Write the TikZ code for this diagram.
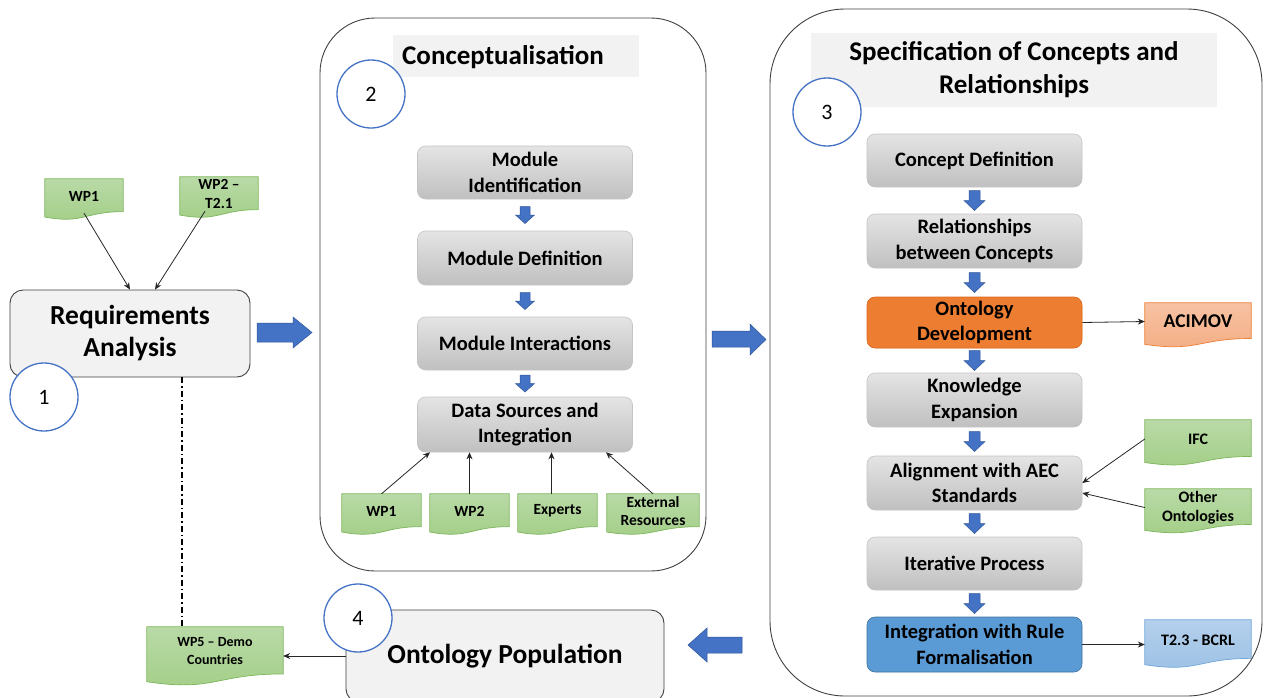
\documentclass[tikz,border=0pt]{standalone}
\usepackage{fontspec}
\setmainfont{Carlito}
\usetikzlibrary{calc,arrows.meta,backgrounds}

\definecolor{boxtop}{HTML}{E4E4E4}
\definecolor{boxbot}{HTML}{C0C0C0}
\definecolor{boxedge}{HTML}{C4C4C4}
\definecolor{paleface}{HTML}{F2F2F2}
\definecolor{frame}{HTML}{404040}
\definecolor{ringblue}{HTML}{4472C4}
\definecolor{arrowblue}{HTML}{4472C4}
\definecolor{arrowedge}{HTML}{2F5597}
\definecolor{greentop}{HTML}{B9DAA7}
\definecolor{greenbot}{HTML}{A2CE86}
\definecolor{greenedge}{HTML}{7CB65A}
\definecolor{orangefill}{HTML}{ED7D31}
\definecolor{orangeedge}{HTML}{D96A1E}
\definecolor{peachtop}{HTML}{F7C2A3}
\definecolor{peachbot}{HTML}{F3AD83}
\definecolor{peachedge}{HTML}{ED7D31}
\definecolor{ruleblue}{HTML}{5B9BD5}
\definecolor{ruleedge}{HTML}{41719C}
\definecolor{skytop}{HTML}{B4D0EC}
\definecolor{skybot}{HTML}{9CC1E5}
\definecolor{skyedge}{HTML}{6FA6DA}

\tikzset{
  stage/.style={rectangle, rounded corners=8pt, draw=boxedge, line width=0.6pt,
    top color=boxtop, bottom color=boxbot, minimum width=215pt, minimum height=54pt,
    align=center, inner sep=2pt, font=\bfseries\fontsize{20.5}{25.5}\selectfont},
  bigbox/.style={rectangle, rounded corners=13pt, draw=frame, line width=0.9pt,
    fill=paleface, align=center, font=\bfseries\fontsize{27.5}{32}\selectfont},
  container/.style={rectangle, draw=frame, line width=0.9pt},
  titlebar/.style={rectangle, fill=paleface, inner sep=0pt},
  ring/.style={circle, draw=ringblue, fill=white, line width=1.3pt, minimum size=68pt,
    inner sep=0pt, font=\fontsize{22}{22}\selectfont},
  paper/.style={rectangle, inner sep=1pt, align=center, font=\bfseries\fontsize{15.5}{18.5}\selectfont},
  conn/.style={draw=black!85, line width=0.8pt, -{Stealth[length=7pt,width=6pt]}},
  dashline/.style={draw=black, line width=1.3pt, dash pattern=on 6pt off 3pt on 1.5pt off 3pt},
  blockarrow/.style={fill=arrowblue, draw=arrowedge, line width=0.5pt}
}

% document shape (flat top, wavy bottom) behind a text node
\newcommand\paperbg[4]{%
  \begin{scope}[on background layer]
  \path[top color=#2, bottom color=#3, draw=#4, line width=0.7pt]
    let \p1=(#1.north west), \p2=(#1.south east), \n1={(\y2-\y1)*1.19} in
    (\x1,\y1) -- (\x2,\y1) -- (\x2,{\y1+0.802*(\n1)})
    .. controls ({(\x1+\x2)/2},{\y1+0.802*(\n1)}) and ({(\x1+\x2)/2},{\y1+1.108*(\n1)}) ..
    (\x1,{\y1+0.934*(\n1)}) -- cycle;
  \end{scope}}

% small downward block arrow centred in the gap between two stacked nodes
\newcommand\flowdown[5]{%
  \path[blockarrow] let \p1=($(#1.south)!0.5!(#2.north)$) in
    ({\x1-#4},{\y1+#3}) -- ({\x1+#4},{\y1+#3}) -- ({\x1+#4},{\y1}) -- ({\x1+#5},{\y1})
    -- ({\x1},{\y1-#3}) -- ({\x1-#5},{\y1}) -- ({\x1-#4},{\y1}) -- cycle;}

\begin{document}
\begin{tikzpicture}[x=1pt,y=-1pt]
\useasboundingbox (0,0) rectangle (1264,697);

% ---- stage containers ----
\node[container, rounded corners=55pt, minimum width=386pt, minimum height=553pt] (concbox) at (513,294.5) {};
\node[container, rounded corners=75pt, minimum width=492pt, minimum height=687pt] (specbox) at (1016,352.5) {};

% ---- 1: requirements ----
\node[bigbox, minimum width=240pt, minimum height=87pt] (req) at (130,333.5) {Requirements\\Analysis};
\node[paper, minimum width=78pt, minimum height=34pt] (wpa) at (84,196) {WP1};
\node[paper, minimum width=78pt, minimum height=34pt] (wpb) at (219,194) {WP2 --\\T2.1};
\paperbg{wpa}{greentop}{greenbot}{greenedge}
\paperbg{wpb}{greentop}{greenbot}{greenedge}
\draw[conn] (wpa.south) -- (req.north);
\draw[conn] ([xshift=-14pt]wpb.south) -- ([xshift=25pt]req.north);
\node[ring] (n1) at (44,397) {1};

% ---- 2: conceptualisation ----
\node[titlebar, minimum width=246pt, minimum height=42pt] (conctitle) at (516,56) {};
\node[anchor=west, inner sep=0pt, font=\bfseries\fontsize{27}{30}\selectfont] (conclabel) at (402,57) {Conceptualisation};
\node[ring] (n2) at (371,94) {2};

\node[stage, minimum height=53pt] (mi) at (525,172.5) {Module\\Identification};
\node[stage] (md) at (525,258) {Module Definition};
\node[stage, minimum height=53pt] (mx) at (525,343.5) {Module Interactions};
\node[stage, minimum height=55pt] (ds) at (525,424.5) {Data Sources and\\Integration};
\flowdown{mi}{md}{8.5}{5}{9.5}
\flowdown{md}{mx}{8.5}{5}{9.5}
\flowdown{mx}{ds}{8.5}{5}{9.5}

\node[paper, minimum width=79pt, minimum height=34pt] (sa) at (381.5,511) {WP1};
\node[paper, minimum width=79pt, minimum height=34pt] (sb) at (469.5,511) {WP2};
\node[paper, minimum width=79pt, minimum height=34pt] (sc) at (557.5,511) {Experts};
\node[paper, minimum width=92pt, minimum height=34pt] (sd) at (653,511) {External\\Resources};
\foreach \s in {sa,sb,sc,sd}{\paperbg{\s}{greentop}{greenbot}{greenedge}}
\draw[conn] (sa.north) -- ([xshift=-95pt]ds.south);
\draw[conn] (sb.north) -- (sb.north |- ds.south);
\draw[conn] ([xshift=-6pt]sc.north) -- ([xshift=-6pt]sc.north |- ds.south);
\draw[conn] (sd.north) -- ([xshift=81pt]ds.south);

% ---- 3: specification ----
\node[titlebar, minimum width=406pt, minimum height=74pt, align=center,
  font=\bfseries\fontsize{27}{33}\selectfont] (spectitle) at (1014,70) {Specification of Concepts and\\Relationships};
\node[ring] (n3) at (827,112) {3};

\node[stage, minimum height=53pt] (cd) at (974.5,160.5) {Concept Definition};
\node[stage] (rc) at (974.5,241) {Relationships\\between Concepts};
\node[stage, minimum height=51pt, fill=orangefill, draw=orangeedge, top color=orangefill, bottom color=orangefill] (od) at (974.5,322.5) {Ontology\\Development};
\node[stage] (ke) at (974.5,400) {Knowledge\\Expansion};
\node[stage] (al) at (974.5,483) {Alignment with AEC\\Standards};
\node[stage, minimum height=53pt] (ip) at (974.5,563.5) {Iterative Process};
\node[stage, minimum height=55pt, draw=ruleedge, top color=ruleblue, bottom color=ruleblue] (ir) at (974.5,644.5) {Integration with Rule\\Formalisation};
\flowdown{cd}{rc}{10}{5.5}{10.5}
\flowdown{rc}{od}{10}{5.5}{10.5}
\flowdown{od}{ke}{10}{5.5}{10.5}
\flowdown{ke}{al}{10}{5.5}{10.5}
\flowdown{al}{ip}{10}{5.5}{10.5}
\flowdown{ip}{ir}{10}{5.5}{10.5}

\node[paper, minimum width=106pt, minimum height=37pt, font=\bfseries\fontsize{19.5}{20}\selectfont] (acimov) at (1198,321.5) {ACIMOV};
\node[paper, minimum width=106pt, minimum height=38pt, font=\bfseries\fontsize{16}{19}\selectfont] (ifc) at (1198,439) {IFC};
\node[paper, minimum width=106pt, minimum height=37pt, font=\bfseries\fontsize{16}{19}\selectfont] (oth) at (1198,507.5) {Other\\Ontologies};
\node[paper, minimum width=106pt, minimum height=40pt, font=\bfseries\fontsize{16}{19}\selectfont] (bcrl) at (1198,640) {T2.3 - BCRL};
\paperbg{acimov}{peachtop}{peachbot}{peachedge}
\paperbg{ifc}{greentop}{greenbot}{greenedge}
\paperbg{oth}{greentop}{greenbot}{greenedge}
\paperbg{bcrl}{skytop}{skybot}{skyedge}
\draw[conn] (od.east) -- (acimov.west);
\draw[conn] (ifc.west) -- (al.east);
\draw[conn] (oth.west) -- ([yshift=-10pt]al.east);
\draw[conn] (ir.east) -- (ir.east -| bcrl.west);

% ---- 4: population ----
\node[bigbox, minimum width=318pt, minimum height=92pt] (pop) at (505,656) {Ontology Population};
\node[paper, minimum width=136pt, minimum height=49pt, font=\bfseries\fontsize{14}{18}\selectfont] (wp5) at (215,651.5) {WP5 -- Demo\\Countries};
\paperbg{wp5}{greentop}{greenbot}{greenedge}
\draw[conn] (pop.west) -- (pop.west -| wp5.east);
\node[ring] (n4) at (358,618) {4};
\draw[dashline] ([xshift=52pt]req.south) -- ([xshift=52pt]req.south |- wp5.north);

% ---- flow arrows between stages ----
\path[blockarrow] (257,323) -- (293,323) -- (293,317) -- (312,332.5) -- (293,348) -- (293,342) -- (257,342) -- cycle;
\path[blockarrow] (712,331) -- (750,331) -- (750,324) -- (766,339.5) -- (750,355) -- (750,347) -- (712,347) -- cycle;
\path[blockarrow] (742,637) -- (707,637) -- (707,628) -- (688,645) -- (707,662) -- (707,653) -- (742,653) -- cycle;
\end{tikzpicture}
\end{document}
